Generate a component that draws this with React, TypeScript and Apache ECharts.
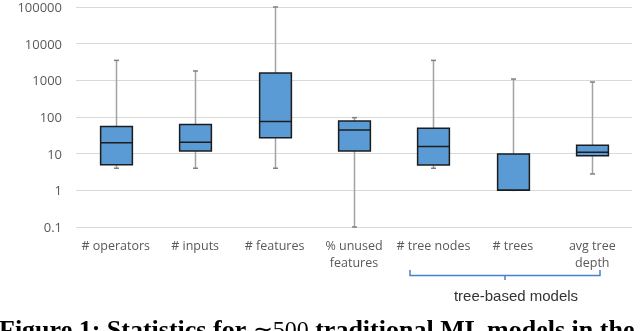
import React, { useEffect, useRef } from 'react';
import * as echarts from 'echarts';

const categories = ['# operators', '# inputs', '# features', '% unused\nfeatures', '# tree nodes', '# trees', 'avg tree\ndepth'];
const minVals = [4, 4, 4, 0.1, 4, 1, 2.8];
const q1Vals = [5, 11.8, 27, 11.8, 4.9, 1, 8.8];
const medianVals = [20, 20.4, 75, 44, 15.8, 1, 11];
const q3Vals = [55, 62, 1590, 78, 49, 9.8, 17];
const maxVals = [3500, 1800, 100000, 96, 3500, 1085, 900];
const yTicks = [0.1, 1, 10, 100, 1000, 10000, 100000];
const groupLabel = 'tree-based models';
const caption = 'Figure 1: Statistics for ';
const captionNum = '∼500';
const captionRest = ' traditional ML models in the';

export default function App() {
  const ref = useRef<HTMLDivElement>(null);
  useEffect(() => {
    const chart = echarts.init(ref.current!, null, { renderer: 'svg' });
    const data = categories.map((_, i) => [i, minVals[i], q1Vals[i], medianVals[i], q3Vals[i], maxVals[i]]);
    const renderItem = (params: any, api: any) => {
      const i = api.value(0);
      const pMin = api.coord([i, api.value(1)]);
      const pQ1 = api.coord([i, api.value(2)]);
      const pMed = api.coord([i, api.value(3)]);
      const pQ3 = api.coord([i, api.value(4)]);
      const pMax = api.coord([i, api.value(5)]);
      const band = api.size([1, 1])[0];
      const bw = band * 0.4;
      const h = bw / 2;
      const cx = Math.round(pMin[0]) + 0.5;
      const wStyle = { stroke: '#a3a3a3', lineWidth: 1.5 };
      const cStyle = { stroke: '#7f7f7f', lineWidth: 1.5 };
      return {
        type: 'group',
        children: [
          { type: 'line', shape: { x1: cx, y1: pMax[1], x2: cx, y2: pQ3[1] }, style: wStyle },
          { type: 'line', shape: { x1: cx, y1: pQ1[1], x2: cx, y2: pMin[1] }, style: wStyle },
          { type: 'line', shape: { x1: cx - 2.5, y1: pMax[1], x2: cx + 2.5, y2: pMax[1] }, style: cStyle },
          { type: 'line', shape: { x1: cx - 2.5, y1: pMin[1], x2: cx + 2.5, y2: pMin[1] }, style: cStyle },
          {
            type: 'rect',
            shape: { x: cx - h, y: pQ3[1], width: bw, height: pQ1[1] - pQ3[1] },
            style: { fill: '#5B9BD5', stroke: '#1c1c1c', lineWidth: 1.5 },
          },
          { type: 'line', shape: { x1: cx - h, y1: pMed[1], x2: cx + h, y2: pMed[1] }, style: { stroke: '#1c1c1c', lineWidth: 1.5 } },
        ],
      };
    };
    chart.setOption({
      animation: false,
      grid: { left: 76, right: 8, top: 7, bottom: 104 },
      xAxis: {
        type: 'category',
        data: categories,
        axisLine: { show: false },
        axisTick: { show: false },
        splitLine: { show: false },
        axisLabel: {
          interval: 0,
          color: '#595959',
          fontSize: 12.5,
          fontFamily: 'Open Sans',
          lineHeight: 17,
          margin: 10,
        },
      },
      yAxis: {
        type: 'log',
        logBase: 10,
        min: yTicks[0],
        max: yTicks[yTicks.length - 1],
        splitNumber: 6,
        axisLine: { show: false },
        axisTick: { show: false },
        splitLine: { lineStyle: { color: '#d9d9d9', width: 1 } },
        axisLabel: {
          color: '#595959',
          fontSize: 13,
          fontFamily: 'Open Sans',
          margin: 14,
          formatter: (v: number) => (v < 0.5 ? '0.1' : String(Math.round(v))),
        },
      },
      series: [
        {
          type: 'custom',
          renderItem,
          data,
          encode: { x: 0, y: [1, 2, 3, 4, 5] },
          silent: true,
        },
      ],
      graphic: [
        {
          type: 'polyline',
          shape: { points: [[410, 270], [410, 275.5], [505, 275.5], [505, 280], [505, 275.5], [600, 275.5], [600, 270]] },
          style: { stroke: '#4a7fcf', lineWidth: 1.5, fill: 'none' },
        },
        {
          type: 'text',
          x: 516,
          y: 295,
          style: {
            text: groupLabel,
            fill: '#333333',
            fontSize: 15,
            fontFamily: 'Liberation Sans',
            align: 'center',
            verticalAlign: 'middle',
          },
        },
        {
          type: 'text',
          x: -1,
          y: 329,
          style: {
            text: '{b|' + caption + '}{n|' + captionNum + '}{b|' + captionRest + '}',
            verticalAlign: 'middle',
            rich: {
              b: { fontSize: 26, fontWeight: 'bold', fontFamily: 'Liberation Serif', fill: '#000' },
              n: { fontSize: 24, fontWeight: 'normal', fontFamily: 'Liberation Serif', fill: '#000' },
            },
          },
        },
      ],
    });
    return () => chart.dispose();
  }, []);
  return <div ref={ref} style={{ position: 'fixed', left: 0, top: 0, width: 640, height: 331 }} />;
}
